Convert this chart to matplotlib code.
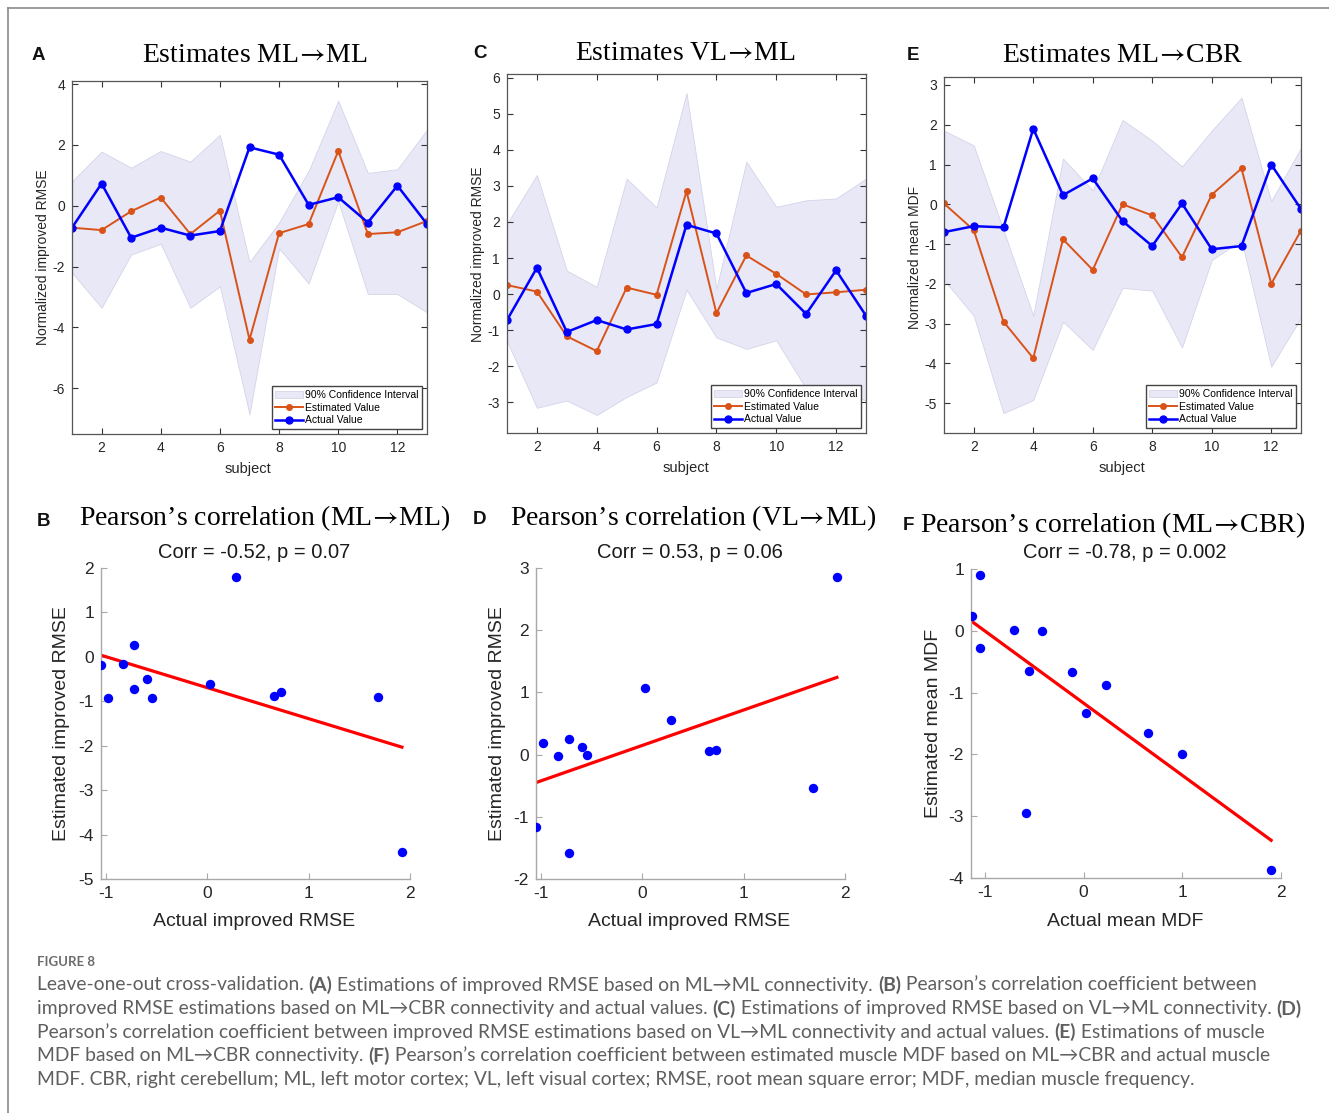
import re
import numpy as np
import matplotlib
matplotlib.use('Agg')
import matplotlib.pyplot as plt

subjects = np.arange(1, 14)

# panel A / B  (ML -> ML)
actual_rmse = [-0.72, 0.73, -1.05, -0.72, -0.98, -0.83, 1.92, 1.68, 0.03, 0.28, -0.55, 0.66, -0.60]
est_ml_ml = [-0.72, -0.80, -0.18, 0.27, -0.93, -0.16, -4.40, -0.90, -0.60, 1.80, -0.93, -0.87, -0.50]
ci_ml_ml_hi = [0.80, 1.78, 1.25, 1.80, 1.45, 2.33, -1.85, -0.55, 1.15, 3.45, 1.08, 1.20, 2.50]
ci_ml_ml_lo = [-2.20, -3.35, -1.60, -1.25, -3.35, -2.65, -6.85, -1.40, -2.55, 0.15, -2.90, -2.90, -3.50]

# panel C / D  (VL -> ML)
est_vl_ml = [0.25, 0.07, -1.17, -1.58, 0.18, -0.02, 2.85, -0.53, 1.07, 0.56, -0.01, 0.05, 0.12]
ci_vl_ml_hi = [1.95, 3.30, 0.65, 0.20, 3.20, 2.40, 5.57, 0.15, 3.67, 2.42, 2.60, 2.65, 3.20]
ci_vl_ml_lo = [-1.30, -3.15, -2.95, -3.35, -2.85, -2.45, 0.12, -1.20, -1.52, -1.28, -2.62, -2.55, -2.96]

# panel E / F  (ML -> CBR)
actual_mdf = [-0.70, -0.55, -0.58, 1.90, 0.23, 0.65, -0.42, -1.05, 0.02, -1.13, -1.05, 1.00, -0.12]
est_ml_cbr = [0.02, -0.65, -2.95, -3.87, -0.88, -1.65, 0.00, -0.28, -1.33, 0.24, 0.90, -2.00, -0.66]
ci_ml_cbr_hi = [1.85, 1.48, -0.65, -2.80, 1.15, 0.35, 2.12, 1.60, 0.95, 1.85, 2.68, 0.08, 1.42]
ci_ml_cbr_lo = [-1.90, -2.80, -5.25, -4.92, -2.95, -3.66, -2.10, -2.17, -3.60, -1.40, -0.90, -4.08, -2.85]

corr_texts = ['Corr = -0.52, p = 0.07', 'Corr = 0.53, p = 0.06', 'Corr = -0.78, p = 0.002']

caption = [
    "Leave-one-out cross-validation. (A) Estimations of improved RMSE based on ML\u2192ML connectivity. (B) Pearson\u2019s correlation coefficient between",
    "improved RMSE estimations based on ML\u2192CBR connectivity and actual values. (C) Estimations of improved RMSE based on VL\u2192ML connectivity. (D)",
    "Pearson\u2019s correlation coefficient between improved RMSE estimations based on VL\u2192ML connectivity and actual values. (E) Estimations of muscle",
    "MDF based on ML\u2192CBR connectivity. (F) Pearson\u2019s correlation coefficient between estimated muscle MDF based on ML\u2192CBR and actual muscle",
    "MDF. CBR, right cerebellum; ML, left motor cortex; VL, left visual cortex; RMSE, root mean square error; MDF, median muscle frequency.",
]

plt.rcParams['font.family'] = ['Liberation Sans', 'DejaVu Sans']
plt.rcParams['axes.unicode_minus'] = False
plt.rcParams['mathtext.fontset'] = 'stix'
SERIF = ['Liberation Serif', 'DejaVu Serif']
W, H = 1329, 1113
fig = plt.figure(figsize=(W / 100, H / 100), dpi=100)


def box(l, t, r, b):
    return [l / W, 1 - b / H, (r - l) / W, (b - t) / H]


def ftext(x, y, s, **kw):
    return fig.text(x / W, 1 - y / H, s, ha=kw.pop('ha', 'center'), va=kw.pop('va', 'center'), **kw)


def line_panel(rect, est, act, hi, lo, ylim, yticks):
    ax = fig.add_axes(box(*rect))
    ax.fill_between(subjects, lo, hi, facecolor='#E8E8F7', edgecolor='#D4D4EA', lw=0.6,
                    label='90% Confidence Interval')
    ax.plot(subjects, est, color='#D95319', marker='o', ms=4, lw=1.4, label='Estimated Value')
    ax.plot(subjects, act, color='#0000FF', marker='o', ms=5, lw=1.8, label='Actual Value')
    ax.set_xlim(1, 13)
    ax.set_ylim(*ylim)
    ax.set_xticks([2, 4, 6, 8, 10, 12])
    ax.set_yticks(yticks)
    ax.tick_params(direction='in', top=True, right=True, labelsize=10, length=4,
                   color='#333333', labelcolor='#262626', pad=5)
    for s in ax.spines.values():
        s.set_color('#555555')
        s.set_linewidth(0.9)
    ax.legend(loc='lower right', fontsize=7.5, fancybox=False, edgecolor='#444444',
              framealpha=1, borderaxespad=0.5, handlelength=2.6, borderpad=0.35,
              labelspacing=0.25, handletextpad=0.2)
    return ax


def scatter_panel(rect, x, y, xlim, ylim, yticks):
    ax = fig.add_axes(box(*rect))
    ax.scatter(x, y, s=46, color='#0000FF', zorder=3, linewidths=0)
    k, c = np.polyfit(x, y, 1)
    xs = np.array([min(x), max(x)])
    ax.plot(xs, k * xs + c, color='#FF0000', lw=2.3, zorder=2)
    ax.set_xlim(*xlim)
    ax.set_ylim(*ylim)
    ax.set_xticks([-1, 0, 1, 2])
    ax.set_yticks(yticks)
    ax.spines['top'].set_visible(False)
    ax.spines['right'].set_visible(False)
    for s in ('left', 'bottom'):
        ax.spines[s].set_color('#A8A8A8')
        ax.spines[s].set_linewidth(1.0)
    ax.tick_params(direction='in', labelsize=12.5, length=4, color='#A8A8A8',
                   labelcolor='#262626', pad=5)
    return ax


# top row
line_panel((72, 81, 427, 434), est_ml_ml, actual_rmse, ci_ml_ml_hi, ci_ml_ml_lo,
           (-7.5, 4.1), [-6, -4, -2, 0, 2, 4])
line_panel((507, 74, 866, 433), est_vl_ml, actual_rmse, ci_vl_ml_hi, ci_vl_ml_lo,
           (-3.85, 6.1), [-3, -2, -1, 0, 1, 2, 3, 4, 5, 6])
line_panel((944, 77, 1301, 433), est_ml_cbr, actual_mdf, ci_ml_cbr_hi, ci_ml_cbr_lo,
           (-5.75, 3.2), [-5, -4, -3, -2, -1, 0, 1, 2, 3])

# bottom row
scatter_panel((101, 568, 410, 879), actual_rmse, est_ml_ml, (-1.05, 2), (-5, 2), range(-5, 3))
scatter_panel((536, 568, 845, 879), actual_rmse, est_vl_ml, (-1.05, 2), (-2, 3), range(-2, 4))
scatter_panel((971, 569, 1281, 878), actual_mdf, est_ml_cbr, (-1.14, 2), (-4, 1), range(-4, 2))

# titles and labels (arrow through STIX mathtext for a Times-like glyph)
ARR = r'$\!\rightarrow\!$'
for x, y, s in [(255, 56, 'Estimates ML' + ARR + 'ML'), (685, 54, 'Estimates VL' + ARR + 'ML'),
                (1123, 55, 'Estimates ML' + ARR + 'CBR')]:
    ftext(x, y, s, fontsize=20, family=SERIF)
for x, y, s in [(265, 518, 'Pearson\u2019s correlation (ML' + ARR + 'ML)'),
                (693, 518, 'Pearson\u2019s correlation (VL' + ARR + 'ML)'),
                (1113, 525, 'Pearson\u2019s correlation (ML' + ARR + 'CBR)')]:
    ftext(x, y, s, fontsize=20, family=SERIF)
for x, y, s in [(38, 55, 'A'), (480, 54, 'C'), (913, 55, 'E'),
                (44, 521, 'B'), (480, 519, 'D'), (908, 525, 'F')]:
    ftext(x, y, s, fontsize=13.5, fontweight='bold', color='#111111')
for x, s in zip([254, 690, 1125], corr_texts):
    ftext(x, 553, s, fontsize=14.5, color='#1a1a1a')

for x, y, s in [(43, 257, 'Normalized improved RMSE'), (478, 254, 'Normalized improved RMSE'),
                (915, 257, 'Normalized mean MDF')]:
    ftext(x, y, s, fontsize=10, rotation=90, color='#262626')
for x, y in [(248, 469), (686, 468), (1122, 468)]:
    ftext(x, y, 'subject', fontsize=10.5, color='#262626')
for x, y, s in [(62, 724, 'Estimated improved RMSE'), (497, 724, 'Estimated improved RMSE'),
                (933, 723, 'Estimated mean MDF')]:
    ftext(x, y, s, fontsize=14, rotation=90, color='#262626')
for x, s in [(254, 'Actual improved RMSE'), (689, 'Actual improved RMSE'), (1125, 'Actual mean MDF')]:
    ftext(x, 922, s, fontsize=14, color='#262626')

# frame lines of the page
fig.add_artist(plt.Line2D([8 / W, 1], [1 - 8 / H, 1 - 8 / H], color='#8a8a8a', lw=1.2))
fig.add_artist(plt.Line2D([8 / W, 8 / W], [1 - 8 / H, 0], color='#8a8a8a', lw=1.2))

# caption
CAP = ['Lato', 'DejaVu Sans']
ftext(37, 962, 'FIGURE 8', fontsize=9.5, color='#6b6b6b', ha='left', family=CAP, fontweight='bold')
rend = fig.canvas.get_renderer()
for i, line in enumerate(caption):
    x = 37
    y = 985 + i * 23.5
    for part in re.split(r'(\([A-F]\))', line):
        if not part:
            continue
        bold = re.fullmatch(r'\([A-F]\)', part) is not None
        t = ftext(x, y, part, fontsize=13.9, color='#5f5f5f', ha='left', family=CAP,
                  fontweight='bold' if bold else 'normal')
        x += t.get_window_extent(renderer=rend).width

fig.savefig('out.png', dpi=100)
